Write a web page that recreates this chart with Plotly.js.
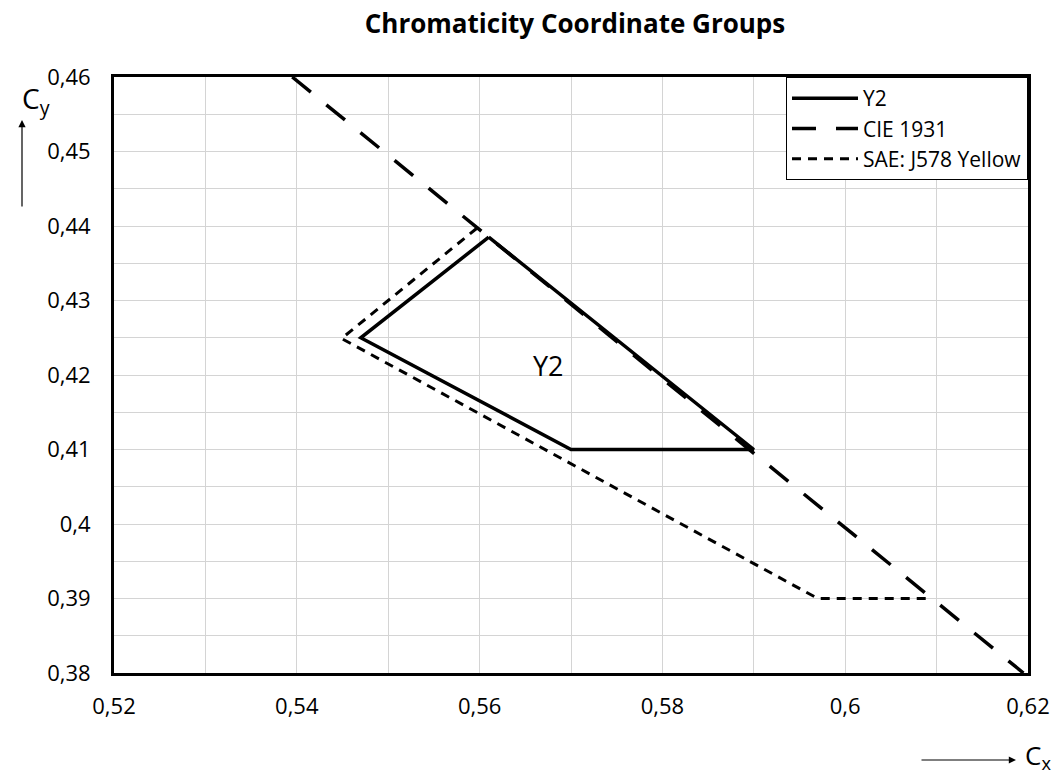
<!DOCTYPE html>
<html>
<head>
<meta charset="utf-8">
<script src="https://cdn.plot.ly/plotly-3.0.1.min.js"></script>
<style>html,body{margin:0;padding:0;background:#fff;}#chart{width:1058px;height:778px;}</style>
</head>
<body>
<div id="chart"></div>
<script>
// Data
const y2X = [0.5610, 0.5470, 0.5700, 0.5900, 0.5610];
const y2Y = [0.4385, 0.4250, 0.4100, 0.4100, 0.4385];
const cieX = [0.5395, 0.6195];
const cieY = [0.4600, 0.3800];
const saeX = [0.5597, 0.5449, 0.5970, 0.6093];
const saeY = [0.4397, 0.4249, 0.3900, 0.3900];
const xTickVals = [0.52, 0.54, 0.56, 0.58, 0.60, 0.62];
const xTickText = ['0,52', '0,54', '0,56', '0,58', '0,6', '0,62'];
const yTickVals = [0.38, 0.39, 0.40, 0.41, 0.42, 0.43, 0.44, 0.45, 0.46];
const yTickText = ['0,38', '0,39', '0,4', '0,41', '0,42', '0,43', '0,44', '0,45', '0,46'];
const seriesNames = ['Y2', 'CIE 1931', 'SAE: J578 Yellow'];
const regionLabel = {text: 'Y2', x: 0.5675, y: 0.4213};

const FONT = 'Open Sans, sans-serif';

const traces = [
  {x: y2X, y: y2Y, name: seriesNames[0], mode: 'lines', line: {color: '#000', width: 3.5}},
  {x: cieX, y: cieY, name: seriesNames[1], mode: 'lines', line: {color: '#000', width: 3.5, dash: '24px,20px'}},
  {x: saeX, y: saeY, name: seriesNames[2], mode: 'lines', line: {color: '#000', width: 3, dash: '9px,7px'}}
];

const L = 114, R = 30, T = 77, B = 105, W = 1058, H = 778;
const pw = W - L - R, ph = H - T - B;
function pxX(px) { return (px - L) / pw; }
function pxY(py) { return (H - B - py) / ph; }

const layout = {
  width: W, height: H,
  paper_bgcolor: '#fff', plot_bgcolor: '#fff',
  margin: {l: L, r: R, t: T, b: B},
  font: {family: FONT, color: '#000', size: 22},
  title: {text: '<b>Chromaticity Coordinate Groups</b>', font: {family: FONT, size: 26, color: '#000'},
          x: 575 / W, xref: 'container', xanchor: 'center', y: 1 - 24 / H, yref: 'container', yanchor: 'middle'},
  showlegend: true,
  legend: {x: 1, xanchor: 'right', y: 1, yanchor: 'top', bgcolor: '#fff', bordercolor: '#000', borderwidth: 1,
           font: {family: FONT, size: 21, color: '#000'}, itemwidth: 66, tracegroupgap: 0},
  xaxis: {range: [0.52, 0.62], tickvals: xTickVals, ticktext: xTickText, showgrid: true,
          gridcolor: '#d4d4d4', gridwidth: 1, zeroline: false,
          showline: true, linecolor: '#000', linewidth: 3, mirror: true, ticks: '', ticklabelstandoff: 12,
          tickfont: {family: FONT, size: 22, color: '#000'},
          minor: {dtick: 0.01, showgrid: true, gridcolor: '#d4d4d4', gridwidth: 1}},
  yaxis: {range: [0.38, 0.46], tickvals: yTickVals, ticktext: yTickText, showgrid: true,
          gridcolor: '#d4d4d4', gridwidth: 1, zeroline: false,
          showline: true, linecolor: '#000', linewidth: 3, mirror: true, ticks: '', ticklabelstandoff: 16,
          tickfont: {family: FONT, size: 22, color: '#000'},
          minor: {dtick: 0.005, showgrid: true, gridcolor: '#d4d4d4', gridwidth: 1}},
  annotations: [
    {x: regionLabel.x, y: regionLabel.y, xref: 'x', yref: 'y', text: regionLabel.text, showarrow: false,
     font: {family: FONT, size: 27, color: '#000'}},
    {x: pxX(36), y: pxY(100), xref: 'paper', yref: 'paper', text: 'C<sub>y</sub>', showarrow: false,
     font: {family: FONT, size: 28, color: '#000'}, xanchor: 'center', yanchor: 'middle'},
    {x: pxX(1038), y: pxY(756), xref: 'paper', yref: 'paper', text: 'C<sub>x</sub>', showarrow: false,
     font: {family: FONT, size: 26, color: '#000'}, xanchor: 'center', yanchor: 'middle'},
    {x: pxX(22), y: pxY(120), xref: 'paper', yref: 'paper', text: '', showarrow: true, arrowhead: 2, arrowsize: 1.2,
     arrowwidth: 1.2, arrowcolor: '#000', ax: 0, ay: 88},
    {x: pxX(1016), y: pxY(760), xref: 'paper', yref: 'paper', text: '', showarrow: true, arrowhead: 2, arrowsize: 1.2,
     arrowwidth: 1.2, arrowcolor: '#000', ax: -96, ay: 0}
  ]
};

Plotly.newPlot('chart', traces, layout, {displayModeBar: false, staticPlot: true});
</script>
</body>
</html>
